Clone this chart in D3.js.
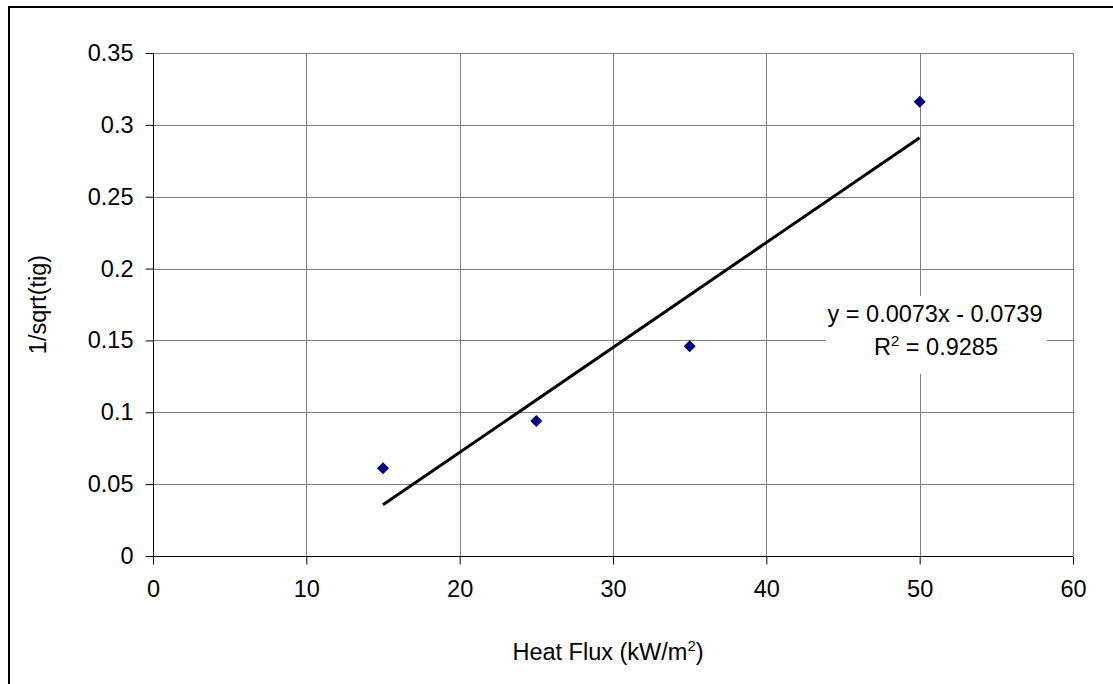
<!DOCTYPE html>
<html>
<head>
<meta charset="utf-8">
<script src="https://cdn.jsdelivr.net/npm/d3@7"></script>
<style>
  html, body { margin: 0; padding: 0; background: #fff; }
  svg { display: block; font-family: "Liberation Sans", Arial, sans-serif; }
</style>
</head>
<body>
<svg id="chart" width="1113" height="684"></svg>
<script>
// Measured ignition data: heat flux vs. 1/sqrt(time to ignition)
const heatFlux = [15, 25, 35, 50];
const invSqrtTig = [0.061, 0.094, 0.146, 0.316];

// Linear trendline fitted to the data
const slope = 0.0073;
const intercept = -0.0739;
const rSquared = "0.9285";
const fitRange = [15, 50];

const xTicks = [0, 10, 20, 30, 40, 50, 60];
const yTicks = [0, 0.05, 0.1, 0.15, 0.2, 0.25, 0.3, 0.35];

const FONT = 23.5;
const SUP = 15;

const svg = d3.select("#chart");

// Outer chart border
svg.append("rect")
  .attr("x", 9).attr("y", 7)
  .attr("width", 1200).attr("height", 800)
  .attr("fill", "none").attr("stroke", "#000").attr("stroke-width", 2);

const plot = { left: 153, right: 1073, top: 53, bottom: 556 };

const x = d3.scaleLinear().domain([0, 60]).range([plot.left, plot.right]);
const y = d3.scaleLinear().domain([0, 0.35]).range([plot.bottom, plot.top]);

// Gridlines
const grid = svg.append("g").attr("stroke", "#808080").attr("stroke-width", 1).attr("shape-rendering", "crispEdges");
grid.selectAll("line.h").data(yTicks.filter(d => d > 0)).join("line")
  .attr("x1", plot.left).attr("x2", plot.right)
  .attr("y1", d => Math.round(y(d)) + 0.5).attr("y2", d => Math.round(y(d)) + 0.5);
grid.selectAll("line.v").data(xTicks.filter(d => d > 0)).join("line")
  .attr("y1", plot.top).attr("y2", plot.bottom)
  .attr("x1", d => Math.round(x(d)) + 0.5).attr("x2", d => Math.round(x(d)) + 0.5);

// Axes
const xAxis = d3.axisBottom(x).tickValues(xTicks).tickSize(8).tickPadding(16).tickFormat(d3.format("d"));
const yAxis = d3.axisLeft(y).tickValues(yTicks).tickSize(8).tickPadding(12).tickFormat(d => d === 0 ? "0" : String(+d.toFixed(2)));

const gx = svg.append("g").attr("transform", `translate(0,${plot.bottom + 0.5})`).call(xAxis);
const gy = svg.append("g").attr("transform", `translate(${plot.left + 0.5},0)`).call(yAxis);
[gx, gy].forEach(g => {
  g.attr("font-size", FONT).attr("font-family", "'Liberation Sans', Arial, sans-serif");
  g.select(".domain").attr("stroke", "#000").attr("stroke-width", 1);
  g.selectAll(".tick line").attr("stroke", "#000");
  g.selectAll(".tick text").attr("fill", "#000");
});
gx.select(".domain").attr("d", `M${plot.left},0H${plot.right}`);
gy.select(".domain").attr("d", `M0,${plot.bottom}V${plot.top}`);

// Trendline
const fitLine = d3.line().x(d => x(d)).y(d => y(slope * d + intercept));
svg.append("path")
  .attr("d", fitLine(fitRange))
  .attr("stroke", "#000").attr("stroke-width", 3).attr("fill", "none");

// Data points (diamonds)
svg.append("g").selectAll("path").data(heatFlux.map((h, i) => [h, invSqrtTig[i]])).join("path")
  .attr("transform", d => `translate(${x(d[0])},${y(d[1])})`)
  .attr("d", "M0,-6L6,0L0,6L-6,0Z")
  .attr("fill", "#000080");

// Trendline equation label with white background
const lbl = svg.append("g");
lbl.append("rect")
  .attr("x", 826).attr("y", 296).attr("width", 221).attr("height", 78)
  .attr("fill", "#fff");
const lt = lbl.append("text").attr("font-size", FONT).attr("fill", "#000").attr("text-anchor", "middle");
lt.append("tspan").attr("x", 935).attr("y", 322)
  .text(`y = ${slope}x - ${Math.abs(intercept)}`);
const l2 = lt.append("tspan").attr("x", 936).attr("y", 355);
l2.append("tspan").text("R");
l2.append("tspan").attr("font-size", SUP).attr("dy", -9).text("2");
l2.append("tspan").attr("dy", 9).text(` = ${rSquared}`);

// Axis titles
const xt = svg.append("text").attr("x", 608).attr("y", 660)
  .attr("text-anchor", "middle").attr("font-size", FONT).attr("fill", "#000");
xt.append("tspan").text("Heat Flux (kW/m");
xt.append("tspan").attr("font-size", SUP).attr("dy", -9).text("2");
xt.append("tspan").attr("dy", 9).text(")");

svg.append("text")
  .attr("transform", `translate(46,${(plot.top + plot.bottom) / 2}) rotate(-90)`)
  .attr("text-anchor", "middle").attr("font-size", FONT).attr("fill", "#000")
  .text("1/sqrt(tig)");
</script>
</body>
</html>
